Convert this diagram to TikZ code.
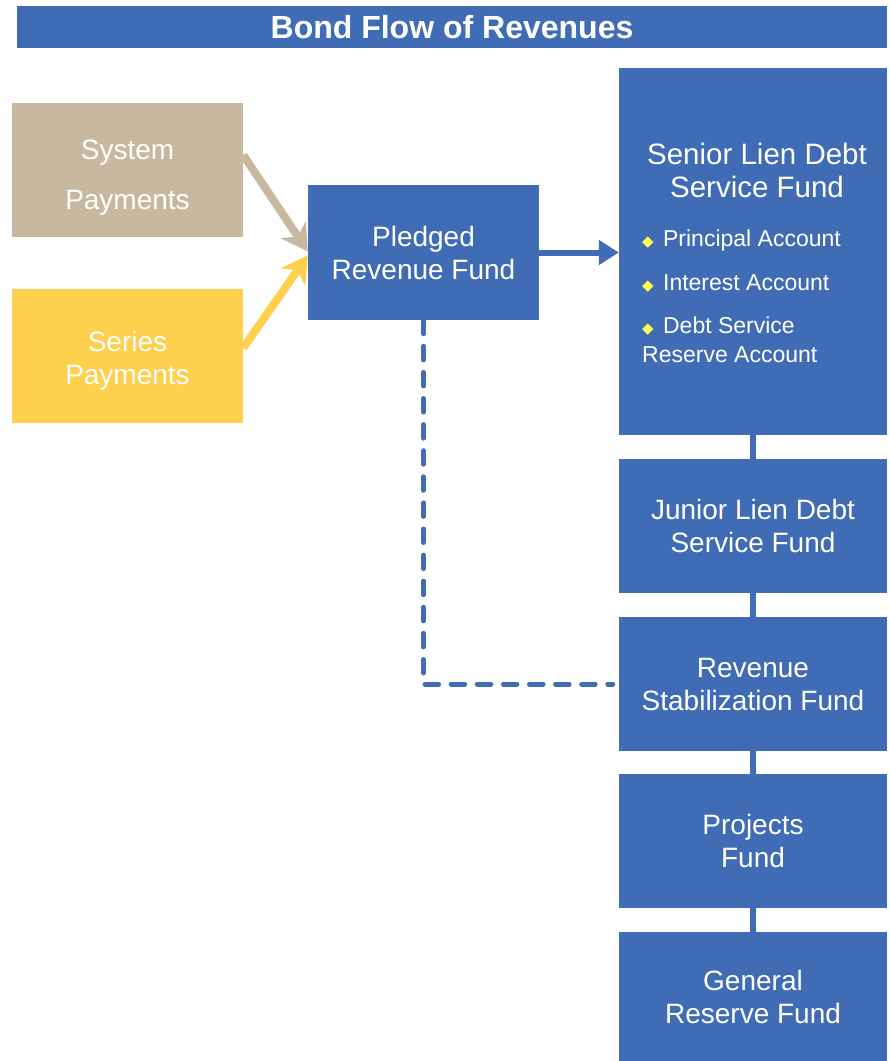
\documentclass[tikz,border=0pt]{standalone}
\usepackage{fontspec}
\setmainfont{Liberation Sans}
\newfontfamily\djfont{DejaVu Sans}
\usetikzlibrary{arrows.meta}
\definecolor{bblue}{HTML}{3F6CB5}
\definecolor{btan}{HTML}{C8B8A0}
\definecolor{byellow}{HTML}{FFD04E}
\definecolor{bulyellow}{HTML}{FFFF55}
\newcommand{\bul}{{\djfont\fontsize{15}{15}\selectfont\color{bulyellow}◆}\hspace{3pt}}
\tikzset{
  box/.style={fill=bblue, draw=none, text=white, align=center, inner sep=0pt, font=\fontsize{28}{33}\selectfont},
  rbox/.style={box, minimum width=268pt, minimum height=134pt},
  lbox/.style={box, minimum width=231pt, minimum height=134pt},
  link/.style={draw=bblue, line width=6pt},
}
\begin{document}
\begin{tikzpicture}[x=1pt,y=-1pt]
\useasboundingbox[fill=white] (0,0) rectangle (890,1061);
% title
\node[box, minimum width=870pt, minimum height=42pt, font=\bfseries\fontsize{32}{33}\selectfont] (title) at (452,27) {Bond Flow of Revenues};
% left boxes
\node[lbox, fill=btan, font=\fontsize{28}{50}\selectfont] (sys) at (127.5,170) {\strut System\\Payments};
\node[lbox, fill=byellow] (ser) at (127.5,356) {};
\node[box, fill=none] (sertext) at (127.5,361) {Series\\Payments};
\node[lbox, minimum height=135pt] (pled) at (423.5,252.5) {Pledged\\Revenue Fund};
% right column
\node[rbox, minimum height=367pt] (sen) at (753,251.5) {};
\node[box, anchor=north, font=\fontsize{29.5}{33}\selectfont] (sentitle) at (757,143) {Senior Lien Debt\\Service Fund};
\node[box, anchor=north west, align=left, font=\fontsize{23}{29}\selectfont] (senlist) at (642,230)
  {\bul{} Principal Account\\[15pt]\bul{} Interest Account\\[14pt]\bul{} Debt Service\\Reserve Account};
\node[rbox] (jun) at (753,526) {Junior Lien Debt\\Service Fund};
\node[rbox] (rev) at (753,684) {Revenue\\Stabilization Fund};
\node[rbox] (proj) at (753,841) {Projects\\Fund};
\node[rbox, minimum height=129pt] (gen) at (753,996.5) {General\\Reserve Fund};
% connectors
\draw[link] (sen.south) -- (jun.north);
\draw[link] (jun.south) -- (rev.north);
\draw[link] (rev.south) -- (proj.north);
\draw[link] (proj.south) -- (gen.north);
\draw[draw=btan, line width=8pt, -{Stealth[length=26pt,width=30pt,inset=8pt]}] ([yshift=15pt]sys.east) -- ([yshift=1pt]pled.west);
\draw[draw=byellow, line width=8pt, -{Stealth[length=26pt,width=30pt,inset=8pt]}] ([yshift=8pt]ser.east) -- ([yshift=-3pt]pled.west);
\draw[draw=bblue, line width=6pt, -{Triangle[length=20pt,width=24pt]}] (pled.east) -- (sen.west |- pled.east);
\draw[draw=bblue, line width=5pt, line cap=round, dash pattern=on 13.5pt off 12.6pt, shorten >=6pt] (pled.south) -- (pled.south |- rev.west) -- (rev.west);
\end{tikzpicture}
\end{document}
